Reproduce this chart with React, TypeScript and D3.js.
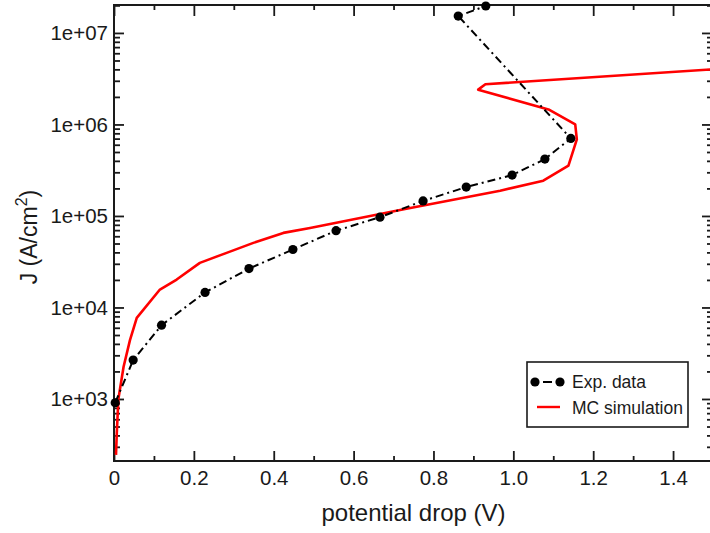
import { useEffect, useRef } from 'react';
import * as d3 from 'd3';

// experimental points (potential drop in V, J in A/cm^2)
const expV = [0.003, 0.048, 0.119, 0.228, 0.338, 0.448, 0.556, 0.666, 0.774, 0.882, 0.997, 1.079, 1.144, 0.862, 0.931];
const expJ = [910, 2660, 6400, 14600, 26600, 43000, 69000, 97000, 146000, 207000, 280000, 418000, 703000, 1.53e7, 1.97e7];

// MC simulation curve
const simV = [0.005, 0.007, 0.011, 0.024, 0.04, 0.057, 0.115, 0.157, 0.215, 0.282, 0.349, 0.424, 0.491, 0.729, 0.967, 1.075, 1.138, 1.159, 1.155, 1.088, 0.912, 0.93, 1.5];
const simJ = [245, 426, 1000, 2250, 4400, 7700, 15700, 20200, 30700, 39500, 50800, 65300, 74000, 119000, 189000, 243000, 354000, 686000, 1000000, 1460000, 2400000, 2750000, 4000000];

const xTicks = [0, 0.2, 0.4, 0.6, 0.8, 1.0, 1.2, 1.4];
const xTickLabels = ['0', '0.2', '0.4', '0.6', '0.8', '1.0', '1.2', '1.4'];
const xMinorTicks = [0.1, 0.3, 0.5, 0.7, 0.9, 1.1, 1.3];
const yTicks = [1e3, 1e4, 1e5, 1e6, 1e7];
const yTickLabels = ['1e+03', '1e+04', '1e+05', '1e+06', '1e+07'];

const legendLabels = ['Exp. data', 'MC simulation'];

function Chart() {
  const svgRef = useRef<SVGSVGElement>(null);

  useEffect(() => {
    const width = 710;
    const height = 533;
    const margin = { top: 5, right: -3, bottom: 72, left: 114 };
    const font = '"Liberation Sans", Arial, Helvetica, sans-serif';
    const ink = '#1a1a1a';

    const svg = d3.select(svgRef.current);
    svg.selectAll('*').remove();

    const x = d3.scaleLinear()
      .domain([0, 1.5])
      .range([margin.left, width - margin.right]);

    const y = d3.scaleLog()
      .domain([210, 2.02e7])
      .range([height - margin.bottom, margin.top]);

    const [x0, x1] = x.range();
    const [yb, yt] = y.range();

    // minor ticks for log axis (2..9 per decade)
    const yMinor: number[] = [];
    for (let e = 2; e <= 7; e++) {
      for (let m = 2; m <= 9; m++) {
        const v = m * Math.pow(10, e);
        if (v > 210 && v < 2.02e7) yMinor.push(v);
      }
    }

    const styleAxis = (g: any) => {
      g.select('.domain').remove();
      g.selectAll('line').attr('stroke', ink).attr('stroke-width', 1.8);
    };

    // bottom axis
    svg.append('g')
      .attr('transform', `translate(0,${yb})`)
      .call(d3.axisBottom(x).tickValues(xTicks).tickSizeInner(-10).tickSizeOuter(0).tickPadding(9)
        .tickFormat((d, i) => xTickLabels[i]))
      .call(styleAxis)
      .call(g => g.selectAll('text').attr('font-family', font).attr('font-size', 20.5).attr('fill', ink));
    svg.append('g')
      .attr('transform', `translate(0,${yb})`)
      .call(d3.axisBottom(x).tickValues(xMinorTicks).tickSizeInner(-5).tickSizeOuter(0).tickFormat(() => ''))
      .call(styleAxis);

    // top axis
    svg.append('g')
      .attr('transform', `translate(0,${yt})`)
      .call(d3.axisTop(x).tickValues(xTicks).tickSizeInner(-11).tickSizeOuter(0).tickFormat(() => ''))
      .call(styleAxis);
    svg.append('g')
      .attr('transform', `translate(0,${yt})`)
      .call(d3.axisTop(x).tickValues(xMinorTicks).tickSizeInner(-5).tickSizeOuter(0).tickFormat(() => ''))
      .call(styleAxis);

    // left axis
    svg.append('g')
      .attr('transform', `translate(${x0},0)`)
      .call(d3.axisLeft(y).tickValues(yTicks).tickSizeInner(-10).tickSizeOuter(0).tickPadding(6)
        .tickFormat((d, i) => yTickLabels[i]))
      .call(styleAxis)
      .call(g => g.selectAll('text').attr('font-family', font).attr('font-size', 20.5).attr('fill', ink));
    svg.append('g')
      .attr('transform', `translate(${x0},0)`)
      .call(d3.axisLeft(y).tickValues(yMinor).tickSizeInner(-6).tickSizeOuter(0).tickFormat(() => ''))
      .call(styleAxis);

    // right axis
    svg.append('g')
      .attr('transform', `translate(${x1},0)`)
      .call(d3.axisRight(y).tickValues(yTicks).tickSizeInner(-11).tickSizeOuter(0).tickFormat(() => ''))
      .call(styleAxis);
    svg.append('g')
      .attr('transform', `translate(${x1},0)`)
      .call(d3.axisRight(y).tickValues(yMinor).tickSizeInner(-6).tickSizeOuter(0).tickFormat(() => ''))
      .call(styleAxis);

    // frame
    svg.append('rect')
      .attr('x', x0).attr('y', yt)
      .attr('width', x1 - x0).attr('height', yb - yt)
      .attr('fill', 'none').attr('stroke', ink).attr('stroke-width', 2);

    svg.append('clipPath').attr('id', 'plot-clip')
      .append('rect')
      .attr('x', x0).attr('y', yt)
      .attr('width', x1 - x0).attr('height', yb - yt);

    // simulation curve
    const simPts = simV.map((v, i) => [x(v), y(simJ[i])] as [number, number]);
    svg.append('path')
      .attr('d', d3.line()(simPts))
      .attr('clip-path', 'url(#plot-clip)')
      .attr('fill', 'none')
      .attr('stroke', '#ff0000')
      .attr('stroke-width', 2.6)
      .attr('stroke-linejoin', 'round');

    // experimental dash-dot line and markers
    const expPts = expV.map((v, i) => [x(v), y(expJ[i])] as [number, number]);
    svg.append('path')
      .attr('d', d3.line()(expPts))
      .attr('fill', 'none')
      .attr('stroke', '#000')
      .attr('stroke-width', 2)
      .attr('stroke-dasharray', '8,4,2,4');

    svg.selectAll('.pt')
      .data(expPts)
      .join('circle')
      .attr('class', 'pt')
      .attr('cx', d => d[0])
      .attr('cy', d => d[1])
      .attr('r', 4.6)
      .attr('fill', '#000');

    // axis titles
    svg.append('text')
      .attr('x', (x0 + x1) / 2)
      .attr('y', 521)
      .attr('text-anchor', 'middle')
      .attr('font-family', font)
      .attr('font-size', 24)
      .attr('fill', ink)
      .text('potential drop (V)');

    const yl = svg.append('text')
      .attr('transform', `translate(37,${(yt + yb) / 2 + 4}) rotate(-90)`)
      .attr('text-anchor', 'middle')
      .attr('font-family', font)
      .attr('font-size', 23)
      .attr('fill', ink);
    yl.append('tspan').text('J (A/cm');
    yl.append('tspan').attr('dy', -10).attr('font-size', 16).text('2');
    yl.append('tspan').attr('dy', 10).text(')');

    // legend
    const lg = svg.append('g');
    lg.append('rect')
      .attr('x', 527).attr('y', 362)
      .attr('width', 161).attr('height', 65)
      .attr('fill', '#fff').attr('stroke', ink).attr('stroke-width', 1.6);
    lg.append('line')
      .attr('x1', 535).attr('x2', 560).attr('y1', 382).attr('y2', 382)
      .attr('stroke', '#000').attr('stroke-width', 2).attr('stroke-dasharray', '0,8,9,8');
    lg.selectAll('.lpt')
      .data([535, 560])
      .join('circle')
      .attr('class', 'lpt')
      .attr('cx', d => d).attr('cy', 382).attr('r', 4.6).attr('fill', '#000');
    lg.append('line')
      .attr('x1', 537).attr('x2', 560).attr('y1', 407).attr('y2', 407)
      .attr('stroke', '#ff0000').attr('stroke-width', 2.4);
    lg.selectAll('.ltxt')
      .data(legendLabels)
      .join('text')
      .attr('class', 'ltxt')
      .attr('x', 572)
      .attr('y', (d, i) => 388 + i * 25.5)
      .attr('font-family', font)
      .attr('font-size', 17.5)
      .attr('fill', ink)
      .text(d => d);
  }, []);

  return <svg ref={svgRef} width={710} height={533} style={{ display: 'block' }} />;
}

export default function App() {
  return (
    <div style={{ position: 'absolute', left: 0, top: 0, width: 710, height: 533, background: '#fff', overflow: 'hidden' }}>
      <Chart />
    </div>
  );
}
